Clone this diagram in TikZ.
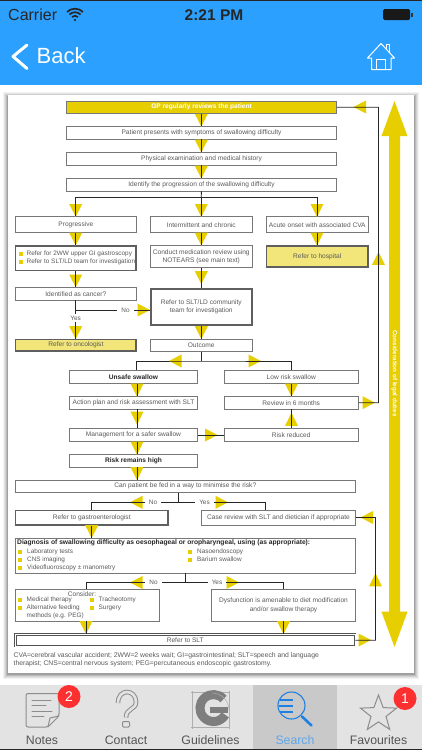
\documentclass[tikz,border=0pt]{standalone}
\usepackage{fontspec}
\setmainfont{Liberation Sans}
\usetikzlibrary{shapes.geometric}
\definecolor{goldc}{HTML}{E6CE00}
\definecolor{ylight}{HTML}{F2E57A}
\definecolor{hdr}{HTML}{2BA0FF}
\definecolor{txt}{HTML}{5A5A5A}
\definecolor{edge}{HTML}{777777}
\definecolor{tabbg}{HTML}{E3E3E3}
\definecolor{tabsel}{HTML}{C9C9C9}
\definecolor{tabgray}{HTML}{8C8C8C}
\definecolor{tabtxt}{HTML}{555555}
\definecolor{sblue}{HTML}{1E80E0}
\definecolor{bred}{HTML}{FC3030}
\tikzset{
 base/.style={inner sep=0pt,align=center,font=\fontsize{6.6}{8.3}\selectfont,text=txt},
 plain/.style={base,draw=edge,line width=.8pt,fill=white},
 heavy/.style={base,draw=edge!80!black,line width=1.9pt,fill=white},
 twin/.style={base,draw=edge!70!black,line width=.9pt,double=white,double distance=1pt,fill=white},
 hl/.style={heavy,fill=ylight},
 gp/.style={plain,fill=goldc,text=white,font=\fontsize{6.6}{8}\selectfont\bfseries},
 strong/.style={plain,text=black!85,font=\fontsize{6.6}{8}\selectfont\bfseries},
 link/.style={draw=black!85,line width=.8pt},
 lab/.style={inner ysep=1.5pt,inner xsep=4pt,fill=white,font=\fontsize{6.4}{8}\selectfont,text=txt},
 free/.style={inner sep=0pt,anchor=west,font=\fontsize{6.4}{8.3}\selectfont,text=txt},
 tri/.style={fill=goldc,draw=none},
 tablabel/.style={inner sep=0pt,font=\fontsize{12.3}{13}\selectfont,text=tabtxt},
 badge/.style={circle,fill=bred,text=white,inner sep=0pt,minimum size=23pt,font=\fontsize{14}{14}\selectfont},
 icon/.style={draw=tabgray,line width=1pt,line join=round,line cap=round},
}
% box by corners
\newcommand{\bx}[7]{%
 \pgfmathsetmacro{\cxx}{(#3+#5)/2}\pgfmathsetmacro{\cyy}{(#4+#6)/2}%
 \pgfmathsetmacro{\www}{#5-#3}\pgfmathsetmacro{\hhh}{#6-#4}%
 \node[#2,minimum width=\www pt,minimum height=\hhh pt] (#1) at (\cxx,\cyy) {#7};}
% triangles: tip position
\newcommand{\tdn}[2]{\fill[tri] (#1,#2) -- ({#1-6.5},{#2-12.8}) -- ({#1+6.5},{#2-12.8}) -- cycle;}
\newcommand{\tup}[2]{\fill[tri] (#1,#2) -- ({#1-6.5},{#2+12.8}) -- ({#1+6.5},{#2+12.8}) -- cycle;}
\newcommand{\tlf}[2]{\fill[tri] (#1,#2) -- ({#1+12.5},{#2-6.5}) -- ({#1+12.5},{#2+6.5}) -- cycle;}
\newcommand{\trt}[2]{\fill[tri] (#1,#2) -- ({#1-12.5},{#2-6.5}) -- ({#1-12.5},{#2+6.5}) -- cycle;}
\newcommand{\sq}[2]{\fill[goldc] (#1,#2) rectangle ({#1+4},{#2+4});}
\begin{document}
\begin{tikzpicture}[x=1pt,y=-1pt]
\useasboundingbox (0,0) rectangle (422,750);
\fill[white] (0,0) rectangle (422,750);
% header
\fill[hdr] (0,0) rectangle (422,85);
\fill[black!85] (0,0) rectangle (422,1);
\node[inner sep=0pt,anchor=west,font=\fontsize{16}{16}\selectfont,text=black!85] (carrier) at (8,15) {Carrier};
\node[inner sep=0pt,font=\fontsize{15.5}{16}\selectfont\bfseries,text=black!85] (clock) at (214,15) {2:21 PM};
\begin{scope}[draw=black!85,line width=1.7pt]
 \coordinate (wf) at (75,20);
 \draw (wf) ++(-3,-3) arc[start angle=135,end angle=45,radius=4.2pt];
 \draw (wf) ++(-5.5,-5.5) arc[start angle=135,end angle=45,radius=7.8pt];
 \draw (wf) ++(-8,-8) arc[start angle=135,end angle=45,radius=11.3pt];
\end{scope}
\fill[black!90] (75,20) circle (1.1pt);
\fill[black!90,rounded corners=1.5pt] (383,9) rectangle (410,20);
\fill[black!80] (411,13) rectangle (412.5,16.5);
\draw[white,line width=3pt,line cap=round,line join=round] (27,45) -- (13,56.5) -- (27,68.5);
\node[inner sep=0pt,anchor=west,font=\fontsize{22}{24}\selectfont,text=white] (back) at (36.5,56) {Back};
\draw[white,line width=1pt,line join=round] (367.5,58) -- (381,43.5) -- (394.5,58) -- (391,58) -- (391,69.5) -- (371.5,69.5) -- (371.5,58) -- cycle;
\draw[white,line width=1pt,line join=round] (376,69.5) -- (376,59) -- (385,59) -- (385,69.5);
\draw[white,line width=1pt] (386,48.5) -- (386,44) -- (389.5,44) -- (389.5,52);
% card with shadow
\foreach \d/\o in {5/.05,4/.06,3/.08,2/.1,1/.14}{
 \fill[black,opacity=\o] ({8-\d},{95-\d+2}) rectangle ({414+\d},{672.5+\d+1});
}
\fill[white] (8,95) rectangle (414,672.5);
% big arrow
\fill[goldc] (394.5,101) -- (407.5,136) -- (400,136) -- (400,611.7) -- (407.5,611.7) -- (394.5,647) -- (381.5,611.7) -- (389,611.7) -- (389,136) -- (381.5,136) -- cycle;
\node[rotate=-90,inner sep=0pt,font=\fontsize{6.3}{8}\selectfont\bfseries,text=white] (legal) at (394.5,373.5) {Consideration of legal duties};
% boxes
\bx{gp}{gp}{66.5}{101}{336.5}{113.3}{GP regularly reviews the patient}
\bx{pres}{plain}{66.5}{126.7}{336.5}{139}{Patient presents with symptoms of swallowing difficulty}
\bx{phys}{plain}{66.5}{152.5}{336.5}{165}{Physical examination and medical history}
\bx{iden}{plain}{66.5}{178.5}{336.5}{191}{Identify the progression of the swallowing difficulty}
\bx{prog}{plain}{15}{216.8}{136.7}{232.5}{Progressive}
\bx{inter}{plain}{150}{216.8}{252.5}{232.5}{Intermittent and chronic}
\bx{acute}{plain}{266}{216.8}{368.5}{232.5}{Acute onset with associated CVA}
\bx{gastr}{heavy}{15.5}{246}{136.2}{270.5}{}
\bx{conduct}{plain}{150}{245.7}{252.5}{267.7}{Conduct medication review using\\NOTEARS (see main text)}
\bx{hosp}{hl}{266.5}{246.2}{368}{267.2}{Refer to hospital}
\bx{cancer}{plain}{15}{287.5}{136.7}{300}{Identified as cancer?}
\bx{slt}{heavy}{150.6}{288.6}{251.9}{324.6}{Refer to SLT/LD community\\team for investigation}
\bx{onco}{hl}{15.5}{339.5}{136.2}{350.7}{Refer to oncologist}
\bx{outc}{plain}{150}{339}{252.5}{351.5}{Outcome}
\bx{unsafe}{strong}{69.5}{370.8}{197.5}{383.5}{Unsafe swallow}
\bx{low}{plain}{224}{370.8}{358.5}{383.5}{Low risk swallow}
\bx{action}{plain}{69.5}{396.5}{197.5}{409}{Action plan and risk assessment with SLT}
\bx{review}{plain}{224}{396.5}{358.5}{409}{Review in 6 months}
\bx{manage}{plain}{69.5}{428.6}{197.5}{441.2}{Management for a safer swallow}
\bx{reduced}{plain}{224}{428.6}{358.5}{441.2}{Risk reduced}
\bx{high}{strong}{69.5}{454.5}{197.5}{467}{Risk remains high}
\bx{fed}{plain}{15}{480}{355.5}{492.5}{Can patient be fed in a way to minimise the risk?}
\bx{gastro}{heavy}{15.5}{510.5}{168}{525}{Refer to gastroenterologist}
\bx{case}{plain}{201.5}{510}{355.5}{525.5}{Case review with SLT and dietician if appropriate}
\bx{diag}{plain}{15}{538}{355.5}{573}{}
\bx{cons}{plain}{15}{589.5}{159}{621}{}
\bx{dysf}{plain}{211.5}{589.5}{355.5}{621}{Dysfunction is amenable to diet modification\\and/or swallow therapy}
\bx{refslt}{twin}{15.5}{634.5}{355}{646}{Refer to SLT}
% box contents
\sq{19}{252}\sq{19}{260}
\node[free] (g1) at (26.5,254.3) {Refer for 2WW upper GI gastroscopy};
\node[free] (g2) at (26.5,262.3) {Refer to SLT/LD team for investigation};
\node[inner sep=0pt,anchor=west,font=\fontsize{6.7}{8}\selectfont\bfseries,text=black!85] (dh) at (17,542.5) {Diagnosis of swallowing difficulty as oesophageal or oropharyngeal, using (as appropriate):};
\sq{18}{549.5}\sq{18}{557.5}\sq{18}{565.5}\sq{188}{549.5}\sq{188}{557.5}
\node[free] (d1) at (27,551.5) {Laboratory tests};
\node[free] (d2) at (27,559.5) {CNS imaging};
\node[free] (d3) at (27,567.5) {Videofluoroscopy ± manometry};
\node[free] (d4) at (197,551.5) {Nasoendoscopy};
\node[free] (d5) at (197,559.5) {Barium swallow};
\node[base] (c0) at (82,593.7) {Consider:};
\sq{17.5}{598}\sq{17.5}{606}\sq{89.5}{598}\sq{89.5}{606}
\node[free] (c1) at (26.5,600.3) {Medical therapy};
\node[free] (c2) at (26.5,608.3) {Alternative feeding};
\node[free] (c3) at (26.5,616.3) {methods (e.g. PEG)};
\node[free] (c4) at (98.5,600.3) {Tracheotomy};
\node[free] (c5) at (98.5,608.3) {Surgery};
% footnote
\node[inner sep=0pt,anchor=north west,align=left,font=\fontsize{6.8}{8.2}\selectfont,text=txt] (foot) at (13.5,652.3) {CVA=cerebral vascular accident; 2WW=2 weeks wait; GI=gastrointestinal; SLT=speech and language\\therapist; CNS=central nervous system; PEG=percutaneous endoscopic gastrostomy.};
% triangles
\tdn{201.3}{126.7}\tdn{201.3}{152.5}\tdn{201.3}{178.5}
\tdn{75.7}{216.8}\tdn{201.3}{216.8}\tdn{317}{216.8}
\tdn{75.7}{245.5}\tdn{201.3}{245.5}\tdn{317}{245.5}
\tdn{75.7}{287.3}\tdn{201.3}{284}\tdn{75.7}{339}\tdn{201.3}{339}
\trt{150}{310}
\tlf{169}{361}\trt{261}{361}
\tdn{137}{396.5}\tdn{137}{424.5}\tdn{137}{454.5}\tdn{137}{480}
\tdn{291.5}{396.5}\tup{291.5}{413}
\trt{217.5}{435}
\tlf{130}{502.3}\trt{228}{502.3}
\tdn{91.7}{538}
\tlf{130}{582.5}\trt{239}{582.5}
\tdn{86}{634}\tdn{283.5}{634}
\tlf{353.5}{107}\tup{378.5}{252}\trt{375}{402.7}
\trt{371}{640}\tup{375.5}{573.5}\tlf{360.5}{517.5}
% connectors
\draw[link] (gp) -- (pres);
\draw[link] (pres) -- (phys);
\draw[link] (phys) -- (iden);
\coordinate (b1) at (201.3,197.3);
\draw[link] (iden) -- (b1);
\draw[link] (75.7,197.3) coordinate (b1l) -- (b1) -- (317,197.3) coordinate (b1r);
\draw[link] (b1l) -- (prog.north -| b1l);
\draw[link] (b1) -- (inter.north -| b1);
\draw[link] (b1r) -- (acute.north -| b1r);
\draw[link] (prog.south -| b1l) -- (gastr.north -| b1l);
\draw[link] (inter.south -| b1) -- (conduct.north -| b1);
\draw[link] (acute.south -| b1r) -- (hosp.north -| b1r);
\draw[link] (gastr.south -| b1l) -- (cancer.north -| b1l);
\draw[link] (conduct.south -| b1) -- (slt.north -| b1);
\draw[link] (cancer.south -| b1l) -- (onco.north -| b1l);
\coordinate (noc) at (slt.west |- 0,310);
\draw[link] (75.7,310) coordinate (nob) -- (noc);
\node[lab] (no1) at (125.5,310) {No};
\node[lab,inner xsep=2pt] (yes1) at (75.7,318) {Yes};
\draw[link] (slt.south -| b1) -- (outc.north -| b1);
\coordinate (b2) at (201.3,361);
\draw[link] (outc.south -| b1) -- (b2);
\draw[link] (unsafe.north -| 136.7,0) |- (b2) -| (low.north);
\draw[link] (unsafe.south -| 137,0) -- (action.north -| 137,0);
\draw[link] (action.south -| 137,0) -- (manage.north -| 137,0);
\draw[link] (manage.south -| 137,0) -- (high.north -| 137,0);
\draw[link] (high.south -| 137,0) -- (fed.north -| 137,0);
\draw[link] (low) -- (review);
\draw[link] (reduced) -- (review);
\draw[link] (manage) -- (reduced);
\coordinate (b3) at (178.7,502.3);
\draw[link] (fed.south -| b3) -- (b3);
\draw[link] (gastro.north -| 91.7,0) |- (b3) -| (case.north -| 265.7,0);
\node[lab] (no2) at (153,502.3) {No};
\node[lab] (yes2) at (204.5,502.3) {Yes};
\draw[link] (gastro.south -| 91.7,0) -- (diag.north -| 91.7,0);
\coordinate (b4) at (185.5,582.5);
\draw[link] (diag.south -| b4) -- (b4);
\draw[link] (cons.north -| 86,0) |- (b4) -| (dysf.north -| 283.5,0);
\node[lab] (no3) at (153.5,582.5) {No};
\node[lab] (yes3) at (217,582.5) {Yes};
\draw[link] (cons.south -| 86,0) -- (refslt.north -| 86,0);
\draw[link] (dysf.south -| 283.5,0) -- (refslt.north -| 283.5,0);
\draw[link] (gp.east) -- (378.5,107.2) coordinate (r1) -- (378.5,402.7) coordinate (r2) -- (review.east |- r2);
\draw[link] (refslt.east) -- (375.5,640.2) coordinate (r3) -- (375.5,517.5) coordinate (r4) -- (case.east |- r4);
% tab bar
\fill[tabbg] (0,684.5) rectangle (422,750);
\fill[tabsel] (253,684.5) rectangle (337,750);
\fill[black!85] (0,749) rectangle (422,750);
\node[tablabel] (tn) at (42,740.5) {Notes};
\node[tablabel] (tc) at (126,740.5) {Contact};
\node[tablabel] (tg) at (210.5,740.5) {Guidelines};
\node[tablabel,text=sblue!70!white] (ts) at (295,740.5) {Search};
\node[tablabel] (tf) at (378.5,740.5) {Favourites};
% notes icon
\draw[icon,rounded corners=2pt] (26,693.5) -- (59,693.5) -- (59,716) -- (48,727) -- (26,727) -- cycle;
\draw[icon] (48,727) -- (50,718) -- (59,716);
\draw[icon] (32,700) -- (51,700) (32,705.5) -- (46,705.5) (32,711) -- (52,711) (32,716.5) -- (44,716.5);
\node[badge] (b2n) at (69,696.5) {2};
% contact icon
\draw[tabgray,line width=1pt,double=tabbg,double distance=2.6pt] (118,703) .. controls (118,688) and (136,689) .. (136,702) .. controls (136,710) and (126,708) .. (126,717.5);
\draw[icon,rounded corners=1pt] (122.5,721.5) rectangle (129.5,727);
% guidelines icon
\draw[tabgray!70,line width=.5pt] (192,691) -- (192,729) (229,691) -- (229,729) (191,692.5) -- (230,692.5) (191,727.5) -- (230,727.5);
\draw[tabgray!90!black,line width=9pt] (223.5,699) arc[start angle=42,end angle=330,radius=13.5pt];
\fill[tabgray!90!black] (210,707) rectangle (228,713);
\draw[tabgray!70,line width=.5pt] (212,693) arc[start angle=90,end angle=0,radius=17pt];
% search icon
\draw[sblue,line width=1.1pt] (291.5,705.5) circle (13.5pt);
\draw[sblue,line width=2.6pt,line cap=round] (302,716.5) -- (311.5,725.5);
\draw[sblue,line width=1.1pt] (280,700) -- (293,700) (279,706) -- (293,706) (280,712) -- (293,712);
% favourites icon
\node[star,star points=5,star point ratio=2.4,draw=tabgray,line width=1pt,inner sep=0pt,minimum size=38pt,fill=tabbg] (st) at (378.5,714) {};
\node[badge] (b1n) at (405,698.5) {1};
\end{tikzpicture}
\end{document}
